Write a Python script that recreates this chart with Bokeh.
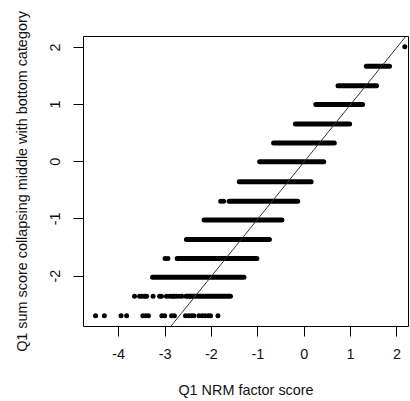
from bokeh.plotting import figure
from bokeh.models import FixedTicker, Range1d, Slope, CustomJSTickFormatter
from bokeh.embed import file_html
from bokeh.resources import INLINE

# Sum-score levels (y) and the x-extent of the dense run of points at each level
band_levels = [-2.35, -2.02, -1.69, -1.36, -1.02, -0.69, -0.35, 0.0, 0.33, 0.66, 1.0, 1.33, 1.67]
band_start = [-2.55, -3.27, -2.74, -2.54, -2.16, -1.62, -1.40, -0.96, -0.66, -0.19, 0.25, 0.73, 1.34]
band_end = [-1.59, -1.30, -1.02, -0.75, -0.48, -0.14, 0.15, 0.42, 0.65, 0.98, 1.26, 1.56, 1.84]

# Isolated points
iso_x_bottom = [-4.50, -4.31, -3.95, -3.83, -3.48, -3.42, -3.36, -3.07, -3.01, -2.86, -2.80,
                -2.56, -2.49, -2.43, -2.38, -2.27, -2.20, -2.14, -2.07, -2.02, -1.86]
iso_x_second = [-3.66, -3.55, -3.50, -3.44, -3.40, -3.26, -3.12, -3.08, -2.97, -2.90, -2.84,
                -2.81, -2.76, -2.70, -2.64]
iso_x_fourth = [-3.00, -2.94]
iso_x_seventh = [-1.80, -1.74]
iso_x_top = [2.17]
level_bottom = -2.69
level_second = -2.35
level_fourth = -1.69
level_seventh = -0.69
level_top = 2.01

x_ticks = [-4, -3, -2, -1, 0, 1, 2]
y_ticks = [-2, -1, 0, 1, 2]

FONT = "Liberation Sans"
FS = "14.4px"

p = figure(width=410, height=401, output_backend="svg", toolbar_location=None,
           x_range=Range1d(-4.76, 2.25), y_range=Range1d(-2.88, 2.19),
           min_border_left=83, min_border_right=2, min_border_top=36, min_border_bottom=75)
p.background_fill_color = "white"
p.border_fill_color = "white"
p.outline_line_color = "black"
p.outline_line_width = 1
p.xgrid.visible = False
p.ygrid.visible = False

for ax, ticks in ((p.xaxis, x_ticks), (p.yaxis, y_ticks)):
    ax.ticker = FixedTicker(ticks=ticks)
    ax.formatter = CustomJSTickFormatter(code="return String(Math.round(tick));")
    ax.axis_line_color = None
    ax.major_tick_out = 10
    ax.major_tick_in = 0
    ax.major_tick_line_color = "black"
    ax.minor_tick_line_color = None
    ax.major_label_text_font = FONT
    ax.major_label_text_font_size = FS
    ax.major_label_text_color = "#111111"
    ax.axis_label_text_font = FONT
    ax.axis_label_text_font_size = FS
    ax.axis_label_text_font_style = "normal"
    ax.axis_label_text_color = "#111111"

p.xaxis.axis_label = "Q1 NRM factor score"
p.yaxis.axis_label = "Q1 sum score collapsing middle with bottom category"
p.yaxis.major_label_orientation = "vertical"
p.xaxis.major_label_standoff = 12
p.xaxis.axis_label_standoff = 20
p.yaxis.major_label_standoff = 13
p.yaxis.axis_label_standoff = 18

p.segment(x0=band_start, y0=band_levels, x1=band_end, y1=band_levels,
          line_color="black", line_width=5, line_cap="round")

for xs, lv in ((iso_x_bottom, level_bottom), (iso_x_second, level_second),
               (iso_x_fourth, level_fourth), (iso_x_seventh, level_seventh),
               (iso_x_top, level_top)):
    p.scatter(x=xs, y=[lv] * len(xs), size=5, color="black", line_width=0)

p.add_layout(Slope(gradient=1, y_intercept=0, line_color="#333333", line_width=1))

open("out.html", "w").write(file_html(p, INLINE))
